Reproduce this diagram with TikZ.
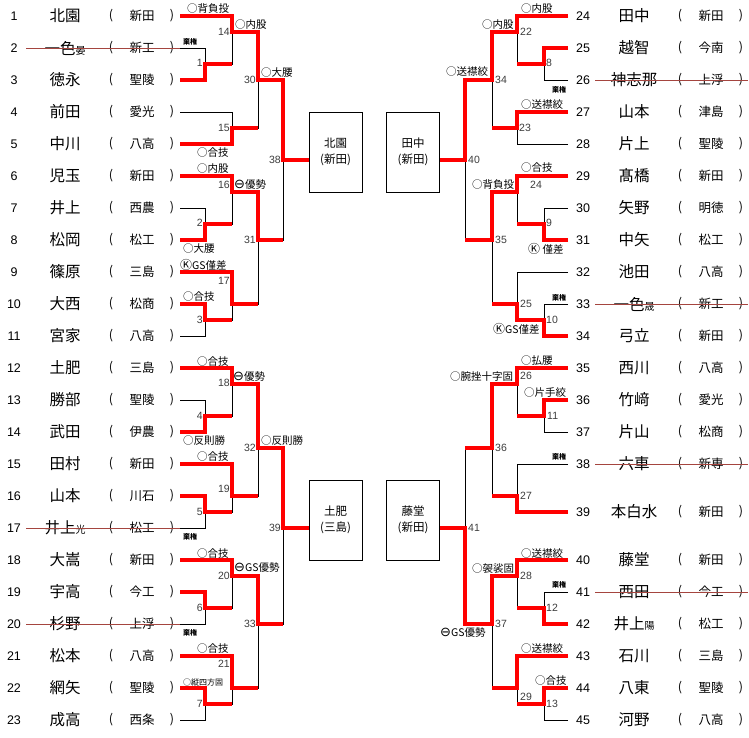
\documentclass[tikz,border=0pt]{standalone}
\usepackage{fontspec}
\setmainfont{Noto Sans CJK JP}
\newfontfamily\digitfont{Liberation Sans}
\newfontfamily\symbfont{DejaVu Sans}
\usepackage{tikz}
\definecolor{BracketWin}{HTML}{FF0000}
\definecolor{BracketStrike}{HTML}{A5453F}
\definecolor{BracketNum}{HTML}{3C3C3C}
\newcommand\sfx[1]{{\fontsize{10}{10}\selectfont #1}}
\newcommand\omark{{\symbfont\fontsize{13}{13}\selectfont ⊖}}
\newcommand\kmark{{\fontsize{12}{12}\selectfont Ⓚ}}

\begin{document}
\begin{tikzpicture}[x=1pt,y=-1pt,
    entno/.style={font=\digitfont\fontsize{12.5}{12.5}\selectfont,inner sep=0pt},
    pname/.style={font=\fontsize{15.5}{15.5}\selectfont,inner sep=0pt},
    school/.style={font=\fontsize{12.5}{12.5}\selectfont,inner sep=0pt},
    matchno/.style={font=\digitfont\fontsize{10.5}{10.5}\selectfont,text=BracketNum,inner sep=0pt},
    tech/.style={font=\fontsize{10.5}{10.5}\selectfont,inner sep=0pt,anchor=west},
    forfeit/.style={font=\bfseries\fontsize{7}{7}\selectfont,inner sep=0pt,anchor=west},
    win/.style={BracketWin,line width=3.3pt},
    lose/.style={black,line width=0.8pt},
    strike/.style={BracketStrike,line width=0.8pt},
    block/.style={draw,line width=0.8pt,minimum width=53pt,minimum height=80pt,align=center,
      inner sep=0pt,font=\fontsize{11.5}{16}\selectfont}]
  \useasboundingbox (0,0) rectangle (749,737);

  % left entries
  \foreach \i/\nm/\sch in {1/北園/新田, 2/一色\sfx{晏}/新工, 3/徳永/聖陵, 4/前田/愛光,
      5/中川/八高, 6/児玉/新田, 7/井上/西農, 8/松岡/松工, 9/篠原/三島, 10/大西/松商,
      11/宮家/八高, 12/土肥/三島, 13/勝部/聖陵, 14/武田/伊農, 15/田村/新田, 16/山本/川石,
      17/井上\sfx{光}/松工, 18/大嵩/新田, 19/宇高/今工, 20/杉野/上浮, 21/松本/八高,
      22/網矢/聖陵, 23/成高/西条} {
    \pgfmathsetmacro\yy{16+32*(\i-1)}
    \node[entno] (no\i) at (14,\yy) {\i};
    \node[pname] (nm\i) at (65,\yy) {\nm};
    \node[school] (lp\i) at (111,\yy) {(};
    \node[school] (sc\i) at (142,\yy) {\sch};
    \node[school] (rp\i) at (172,\yy) {)};
    \coordinate (p\i) at (180,\yy);
  }

  % right entries
  \foreach \i/\yy/\nm/\sch in {24/16/田中/新田, 25/48/越智/今南, 26/80/神志那/上浮,
      27/112/山本/津島, 28/144/片上/聖陵, 29/176/髙橋/新田, 30/208/矢野/明徳,
      31/240/中矢/松工, 32/272/池田/八高, 33/304/一色\sfx{晟}/新工, 34/336/弓立/新田,
      35/368/西川/八高, 36/400/竹﨑/愛光, 37/432/片山/松商, 38/464/六車/新専,
      39/512/本白水/新田, 40/560/藤堂/新田, 41/592/西田/今工, 42/624/井上\sfx{陽}/松工,
      43/656/石川/三島, 44/688/八東/聖陵, 45/720/河野/八高} {
    \node[entno] (no\i) at (583,\yy) {\i};
    \node[pname] (nm\i) at (634,\yy) {\nm};
    \node[school] (lp\i) at (680,\yy) {(};
    \node[school] (sc\i) at (711,\yy) {\sch};
    \node[school] (rp\i) at (741,\yy) {)};
    \coordinate (q\i) at (568,\yy);
  }

  % match points
  \coordinate (m1) at (205,64);   \coordinate (m2) at (205,224);
  \coordinate (m3) at (205,320);  \coordinate (m4) at (205,416);
  \coordinate (m5) at (205,512);  \coordinate (m6) at (205,608);
  \coordinate (m7) at (205,704);
  \coordinate (m14) at (232,32);  \coordinate (m15) at (232,128);
  \coordinate (m16) at (232,192); \coordinate (m17) at (232,304);
  \coordinate (m18) at (232,384); \coordinate (m19) at (232,496);
  \coordinate (m20) at (232,576); \coordinate (m21) at (232,688);
  \coordinate (m30) at (258,80);  \coordinate (m31) at (258,240);
  \coordinate (m32) at (258,448); \coordinate (m33) at (258,624);
  \coordinate (m38) at (283,160); \coordinate (m39) at (283,528);
  \coordinate (m8) at (544,64);   \coordinate (m9) at (544,224);
  \coordinate (m10) at (544,320); \coordinate (m11) at (544,416);
  \coordinate (m12) at (544,608); \coordinate (m13) at (544,704);
  \coordinate (m22) at (517,32);  \coordinate (m23) at (517,128);
  \coordinate (m24) at (517,192); \coordinate (m25) at (517,304);
  \coordinate (m26) at (517,384); \coordinate (m27) at (517,496);
  \coordinate (m28) at (517,576); \coordinate (m29) at (517,688);
  \coordinate (m34) at (492,80);  \coordinate (m35) at (492,240);
  \coordinate (m36) at (492,448); \coordinate (m37) at (492,624);
  \coordinate (m40) at (465,160); \coordinate (m41) at (465,528);

  % block winners
  \node[block] (bxA) at (335.5,152) {北園\\(新田)};
  \node[block] (bxB) at (413,152) {田中\\(新田)};
  \node[block] (bxC) at (335.5,520) {土肥\\(三島)};
  \node[block] (bxD) at (413,520) {藤堂\\(新田)};

  % bracket lines
  \foreach \a/\b in {p2/m1, p3/m1, p1/m14, m1/m14, p4/m15, p5/m15, m14/m30, m15/m30,
      p7/m2, p8/m2, p6/m16, m2/m16, p10/m3, p11/m3, p9/m17, m3/m17, m16/m31, m17/m31,
      m30/m38, m31/m38, p13/m4, p14/m4, p12/m18, m4/m18, p16/m5, p17/m5, p15/m19, m5/m19,
      m18/m32, m19/m32, p19/m6, p20/m6, p18/m20, m6/m20, p22/m7, p23/m7, p21/m21, m7/m21,
      m20/m33, m21/m33, m32/m39, m33/m39,
      q25/m8, q26/m8, q24/m22, m8/m22, q27/m23, q28/m23, m22/m34, m23/m34,
      q30/m9, q31/m9, q29/m24, m9/m24, q33/m10, q34/m10, q32/m25, m10/m25, m24/m35, m25/m35,
      m34/m40, m35/m40, q36/m11, q37/m11, q35/m26, m11/m26, q38/m27, q39/m27, m26/m36, m27/m36,
      q41/m12, q42/m12, q40/m28, m12/m28, q44/m13, q45/m13, q43/m29, m13/m29,
      m28/m37, m29/m37, m36/m41, m37/m41}
    \draw[lose] (\a) -| (\b);

  % winners
  \draw[win] (p1) -| (m14) -| (m30) -| (m38) -- (m38 -| bxA.west);
  \draw[win] (p3) -| (m1) -- (m1 -| m14);
  \draw[win] (p5) -| (m15) -- (m15 -| m30);
  \draw[win] (p6) -| (m16) -| (m31) -- (m31 -| m38);
  \draw[win] (p8) -| (m2) -- (m2 -| m16);
  \draw[win] (p9) -| (m17) -- (m17 -| m31);
  \draw[win] (p10) -| (m3) -- (m3 -| m17);
  \draw[win] (p12) -| (m18) -| (m32) -| (m39) -- (m39 -| bxC.west);
  \draw[win] (p14) -| (m4) -- (m4 -| m18);
  \draw[win] (p15) -| (m19) -- (m19 -| m32);
  \draw[win] (p16) -| (m5) -- (m5 -| m19);
  \draw[win] (p18) -| (m20) -| (m33) -- (m33 -| m39);
  \draw[win] (p19) -| (m6) -- (m6 -| m20);
  \draw[win] (p21) -| (m21) -- (m21 -| m33);
  \draw[win] (p22) -| (m7) -- (m7 -| m21);
  \draw[win] (q24) -| (m22) -| (m34) -| (m40) -- (m40 -| bxB.east);
  \draw[win] (q25) -| (m8) -- (m8 -| m22);
  \draw[win] (q27) -| (m23) -- (m23 -| m34);
  \draw[win] (q29) -| (m24) -| (m35) -- (m35 -| m40);
  \draw[win] (q31) -| (m9) -- (m9 -| m24);
  \draw[win] (q34) -| (m10) -| (m25) -- (m25 -| m35);
  \draw[win] (q35) -| (m26) -| (m36) -- (m36 -| m41);
  \draw[win] (q36) -| (m11) -- (m11 -| m26);
  \draw[win] (q39) -| (m27) -- (m27 -| m36);
  \draw[win] (q40) -| (m28) -| (m37) -| (m41) -- (m41 -| bxD.east);
  \draw[win] (q42) -| (m12) -- (m12 -| m28);
  \draw[win] (q43) -| (m29) -- (m29 -| m37);
  \draw[win] (q44) -| (m13) -- (m13 -| m29);

  % withdrawn entries
  \foreach \yy in {48,528,624} \draw[strike] (26,\yy) -- (180,\yy);
  \foreach \yy in {80,304,464,592} \draw[strike] (595,\yy) -- (748,\yy);

  % match numbers
  \foreach \k/\x/\yy in {1/203/63, 2/203/223, 3/203/320, 4/203/416, 5/203/512, 6/203/608,
      7/203/704, 14/230/32, 15/230/128, 16/230/185, 17/230/281, 18/230/383, 19/230/489,
      20/230/576, 21/230/664, 30/256/80, 31/256/240, 32/256/448, 33/256/624,
      38/281/160, 39/281/528}
    \node[matchno,anchor=east] (n\k) at (\x,\yy) {\k};
  \foreach \k/\x/\yy in {8/546/63, 9/546/223, 10/546/320, 11/547/416, 12/546/608,
      13/546/704, 22/520/32, 23/519/128, 24/530/185, 25/520/304, 26/520/376, 27/520/496,
      28/520/576, 29/520/697, 34/495/80, 35/495/240, 36/495/448, 37/495/624,
      40/468/160, 41/468/528}
    \node[matchno,anchor=west] (n\k) at (\x,\yy) {\k};

  % results
  \foreach \x/\yy/\lab [count=\c] in {187/9/○背負投, 235/25/○内股, 261/73/○大腰,
      197/153/○合技, 197/169/○内股, 234/185/\omark 優勢, 183/249/○大腰,
      180/265/\kmark GS僅差, 183/297/○合技, 197/362/○合技, 233/377/\omark 優勢,
      183/441/○反則勝, 261/441/○反則勝, 197/457/○合技, 197/554/○合技,
      234/568/\omark GS優勢, 197/649/○合技,
      521/9/○内股, 482/25/○内股, 446/72/○送襟絞, 521/105/○送襟絞, 521/168/○合技,
      472/185/○背負投, 528/249/\kmark\ 僅差, 493/329/\kmark GS僅差, 521/361/○払腰,
      450/377/○腕挫十字固, 524/393/○片手絞, 521/554/○送襟絞, 472/569/○袈裟固,
      440/633/\omark GS優勢, 521/649/○送襟絞, 535/681/○合技}
    \node[tech] (r\c) at (\x,\yy) {\lab};
  \node[tech,font=\fontsize{8}{8}\selectfont] (r0) at (183,682) {○縦四方固};

  % forfeits
  \foreach \x/\yy [count=\c] in {183/42, 183/537, 183/633, 552/90, 552/298, 552/457, 552/585}
    \node[forfeit] (f\c) at (\x,\yy) {棄権};
\end{tikzpicture}
\end{document}
